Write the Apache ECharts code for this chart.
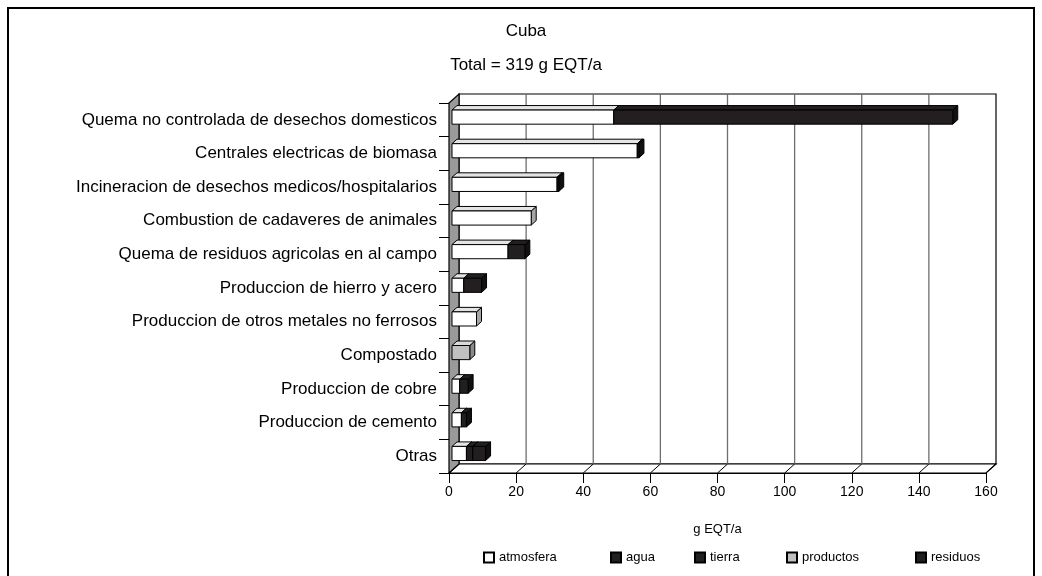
<!DOCTYPE html>
<html>
<head>
<meta charset="utf-8">
<script src="https://cdn.jsdelivr.net/npm/echarts@6/dist/echarts.min.js"></script>
<style>
  html, body { margin: 0; padding: 0; background: #fff; }
  #main { width: 1042px; height: 576px; }
</style>
</head>
<body>
<div id="main"></div>
<script>
// fuentes de dioxinas, Cuba (g EQT/a)
var categories = [
  'Quema no controlada de desechos domesticos',
  'Centrales electricas de biomasa',
  'Incineracion de desechos medicos/hospitalarios',
  'Combustion de cadaveres de animales',
  'Quema de residuos agricolas en al campo',
  'Produccion de hierro y acero',
  'Produccion de otros metales no ferrosos',
  'Compostado',
  'Produccion de cobre',
  'Produccion de cemento',
  'Otras'
];
var atmosfera = [48.2, 55.2, 31.3, 23.6, 16.7, 3.5, 7.3, 0, 2.3, 2.8, 4.3];
var agua      = [0, 0, 0, 0, 0, 0, 0, 0, 0, 0, 0];
var tierra    = [0, 0, 0, 0, 5.0, 0, 0, 0, 0, 0, 1.9];
var productos = [0, 0, 0, 0, 0, 0, 0, 5.3, 0, 0, 0];
var residuos  = [101, 0.5, 0.5, 0, 0, 5.3, 0, 0, 2.5, 1.5, 3.8];
var xTicks = [0, 20, 40, 60, 80, 100, 120, 140, 160];

var seriesNames = ['atmosfera', 'agua', 'tierra', 'productos', 'residuos'];
var seriesValues = [atmosfera, agua, tierra, productos, residuos];
var faceColors = [
  { front: '#ffffff', top: '#e4e4e4', side: '#a6a6a6' },
  { front: '#231f20', top: '#231f20', side: '#111111' },
  { front: '#231f20', top: '#231f20', side: '#111111' },
  { front: '#c0c0c0', top: '#dadada', side: '#8a8a8a' },
  { front: '#231f20', top: '#231f20', side: '#111111' }
];
var legendLeft = [478, 605, 689, 781, 910];

// profundidad del efecto 3D
var DX = 10, DY = 9;

var chartDom = document.getElementById('main');
var myChart = echarts.init(chartDom);

// inicio/fin acumulado de cada tramo
var running = categories.map(function () { return 0; });
var barSeries = seriesValues.map(function (vals, si) {
  var data = [];
  vals.forEach(function (v, ci) {
    if (v > 0) {
      data.push([ci, running[ci], running[ci] + v]);
      running[ci] += v;
    }
  });
  var c = faceColors[si];
  return {
    name: seriesNames[si],
    type: 'custom',
    z: 3,
    silent: true,
    itemStyle: { color: c.front, borderColor: '#000', borderWidth: 1 },
    encode: { x: [1, 2], y: 0 },
    data: data,
    renderItem: function (params, api) {
      var cat = api.value(0), s = api.value(1), e = api.value(2);
      var p0 = api.coord([s, cat]);
      var p1 = api.coord([e, cat]);
      var band = api.size([0, 1])[1];
      var h = band * 0.42;
      var fx = DX * 0.3, fy = DY * 0.3;
      var bx = DX * 0.5, by = DY * 0.5;
      var x0 = p0[0] + fx, x1 = p1[0] + fx;
      var yc = p0[1] - fy, yt = yc - h / 2, yb = yc + h / 2;
      var line = { stroke: '#000', lineWidth: 1, lineJoin: 'round' };
      return {
        type: 'group',
        children: [
          { type: 'polygon', shape: { points: [[x1, yt], [x1 + bx, yt - by], [x1 + bx, yb - by], [x1, yb]] },
            style: Object.assign({ fill: c.side }, line) },
          { type: 'polygon', shape: { points: [[x0, yt], [x1, yt], [x1 + bx, yt - by], [x0 + bx, yt - by]] },
            style: Object.assign({ fill: c.top }, line) },
          { type: 'rect', shape: { x: x0, y: yt, width: x1 - x0, height: h },
            style: Object.assign({ fill: c.front }, line) }
        ]
      };
    }
  };
});

var wallSeries = {
  type: 'custom',
  z: 1,
  silent: true,
  encode: { x: 0, y: 1 },
  data: [[0, 0]],
  renderItem: function (params, api) {
    var cs = params.coordSys;
    var x = cs.x, y = cs.y, w = cs.width, h = cs.height;
    var kids = [];
    kids.push({ type: 'rect', shape: { x: x + DX, y: y - DY, width: w, height: h },
      style: { fill: '#fff', stroke: '#000', lineWidth: 1.2 } });
    kids.push({ type: 'polygon', shape: { points: [[x, y + h], [x + DX, y + h - DY], [x + w + DX, y + h - DY], [x + w, y + h]] },
      style: { fill: '#fff', stroke: '#000', lineWidth: 1.2 } });
    xTicks.forEach(function (v) {
      var px = api.coord([v, 0])[0];
      if (v > 0 && v < xTicks[xTicks.length - 1]) {
        kids.push({ type: 'line', shape: { x1: px + DX, y1: y - DY, x2: px + DX, y2: y + h - DY },
          style: { stroke: '#6e6e6e', lineWidth: 1.3 } });
      }
      kids.push({ type: 'line', shape: { x1: px, y1: y + h, x2: px + DX, y2: y + h - DY },
        style: { stroke: '#000', lineWidth: 1 } });
    });
    kids.push({ type: 'polygon', shape: { points: [[x, y], [x + DX, y - DY], [x + DX, y + h - DY], [x, y + h]] },
      style: { fill: '#9a9a9a', stroke: '#000', lineWidth: 1.2 } });
    return { type: 'group', children: kids };
  }
};

var titleFont = { fontSize: 17, fontWeight: 'normal', color: '#000', fontFamily: 'Liberation Sans' };

var option = {
  animation: false,
  backgroundColor: '#fff',
  textStyle: { fontFamily: 'Liberation Sans, Arial, sans-serif', color: '#000' },
  graphic: [
    { type: 'rect', shape: { x: 8, y: 8, width: 1026, height: 590 },
      style: { fill: 'none', stroke: '#000', lineWidth: 2 }, z: 100 }
  ],
  title: [
    { text: 'Cuba', left: 521, top: 18, textAlign: 'center', textStyle: titleFont },
    { text: 'Total = 319 g EQT/a', left: 521, top: 52, textAlign: 'center', textStyle: titleFont }
  ],
  legend: seriesNames.map(function (n, i) {
    return {
      data: [n],
      left: legendLeft[i],
      bottom: 7,
      icon: 'rect',
      itemWidth: 10,
      itemHeight: 10,
      textStyle: { fontSize: 13, color: '#000', fontFamily: 'Liberation Sans' }
    };
  }),
  grid: { left: 449, right: 56, top: 103, bottom: 103 },
  xAxis: {
    type: 'value',
    min: 0,
    max: 160,
    interval: 20,
    name: 'g EQT/a',
    nameLocation: 'middle',
    nameGap: 50,
    nameTextStyle: { fontSize: 13, color: '#000', fontFamily: 'Liberation Sans' },
    axisLine: { show: true, lineStyle: { color: '#000', width: 1 } },
    axisTick: { show: true, length: 10, lineStyle: { color: '#000' } },
    axisLabel: { fontSize: 14, color: '#000', margin: 12, fontFamily: 'Liberation Sans' },
    splitLine: { show: false }
  },
  yAxis: {
    type: 'category',
    data: categories,
    inverse: true,
    axisLine: { show: true, lineStyle: { color: '#000', width: 1 } },
    axisTick: { show: true, length: 10, lineStyle: { color: '#000' } },
    axisLabel: { fontSize: 17, color: '#000', margin: 12, fontFamily: 'Liberation Sans' },
    splitLine: { show: false }
  },
  series: [wallSeries].concat(barSeries)
};

myChart.setOption(option);
</script>
</body>
</html>
